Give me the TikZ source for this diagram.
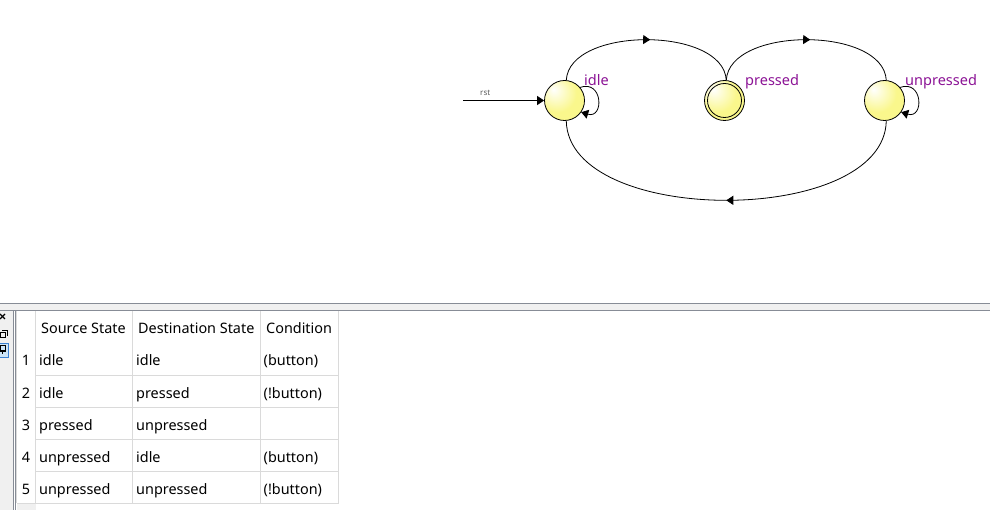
\documentclass[tikz,border=0pt]{standalone}
\usepackage{fontspec}
\setmainfont{Noto Sans}
\usetikzlibrary{arrows.meta,decorations.markings}
\definecolor{yel}{RGB}{250,247,140}
\definecolor{lblpurple}{RGB}{140,20,150}
\definecolor{gridc}{RGB}{218,218,218}
\definecolor{divc}{RGB}{135,140,150}
\definecolor{bandc}{RGB}{240,240,240}
\definecolor{rstc}{RGB}{90,90,90}
\definecolor{selc}{RGB}{204,228,247}
\definecolor{selb}{RGB}{60,130,210}
\pgfdeclareradialshading{stateball}{\pgfpoint{-14bp}{14bp}}{color(0bp)=(white); color(24bp)=(yel); color(70bp)=(yel)}
\begin{document}
\begin{tikzpicture}[x=1pt,y=-1pt,
  state/.style={circle,draw=black,line width=0.8pt,minimum size=40pt,inner sep=0pt,shading=stateball},
  innerring/.style={circle,draw=black,line width=0.8pt,minimum size=34pt,inner sep=0pt},
  lbl/.style={text=lblpurple,font=\fontsize{14.5}{16}\selectfont,inner sep=0pt,anchor=base west},
  cell/.style={font=\fontsize{14.4}{16}\selectfont,inner sep=0pt,anchor=base west},
  rownum/.style={font=\fontsize{14.4}{16}\selectfont,inner sep=0pt,anchor=base},
  edge/.style={line width=0.8pt},
  tip/.style={edge,-{Triangle[length=7pt,width=9pt]}},
  midarrow/.style={edge,postaction={decorate},decoration={markings,mark=at position #1 with {\arrow{Triangle[length=7pt,width=9pt]}}}},
  grid/.style={draw=gridc,line width=1pt}
]
\useasboundingbox (0,0) rectangle (990,510);
\fill[white] (0,0) rectangle (990,510);

% ---------- state diagram ----------
\node[state] (idle) at (564.5,100.5) {};
\node[state] (pressed) at (724.5,100.5) {};
\node[innerring] (pressedin) at (pressed.center) {};
\node[state] (unpressed) at (884.5,100.5) {};

\node[lbl] (idlelbl) at (584,86) {idle};
\node[lbl] (pressedlbl) at (745,86) {pressed};
\node[lbl] (unpressedlbl) at (905,86) {unpressed};

\coordinate (rstin) at (463,100.5);
\draw[tip] (rstin) -- (idle.west);
\node[font=\fontsize{8}{9}\selectfont,text=rstc,inner sep=0pt,anchor=base west] (rstlbl) at (480,96) {rst};

\draw[tip] (idle.40) .. controls +(23,-8) and +(23,7) .. (idle.-35);
\draw[tip] (unpressed.40) .. controls +(23,-8) and +(23,7) .. (unpressed.-35);

\draw[midarrow=0.52] (idle.85) .. controls +(3,-54) and +(-3,-54) .. (pressed.85);
\draw[midarrow=0.52] (pressed.85) .. controls +(3,-54) and +(-3,-54) .. (unpressed.85);
\draw[midarrow=0.5] (unpressed.-85) .. controls +(-2,106) and +(2,106) .. (idle.-85);

% ---------- lower panel ----------
\fill[bandc] (0,303.5) rectangle (990,310.5);
\draw[divc,line width=1pt] (0,303.5) -- (990,303.5);
\draw[divc,line width=1pt] (0,310.8) -- (990,310.8);
\fill[bandc] (0,311.3) rectangle (13,510);
\draw[divc,line width=1pt] (13.5,311) -- (13.5,510);
\draw[divc,line width=1pt] (15.5,311) -- (15.5,510);
\fill[bandc] (16.5,503) rectangle (35.5,510);

% side icons
\draw[line width=1.3pt] (0,314) -- (5,319);
\draw[line width=1.3pt] (0,319) -- (5,314);
\draw[line width=1pt] (0,333) rectangle (5,338);
\draw[line width=1pt] (2,330.5) -- (7.5,330.5) -- (7.5,336);
\fill[selc] (-1,343) rectangle (8,357);
\draw[selb,line width=0.8pt] (-1,343) rectangle (8,357);
\draw[line width=1pt] (0,346) rectangle (5,351);
\draw[line width=1pt] (2.5,351) -- (2.5,354);

% table grid
\draw[grid] (16.5,311) -- (16.5,503);
\draw[grid] (35.5,311) -- (35.5,503);
\draw[grid] (132.5,311) -- (132.5,503);
\draw[grid] (260.5,311) -- (260.5,503);
\draw[grid] (338.5,311) -- (338.5,503);
\draw[grid] (35.5,375) -- (338.5,375);
\draw[grid] (35.5,407) -- (338.5,407);
\draw[grid] (35.5,439) -- (338.5,439);
\draw[grid] (35.5,471) -- (338.5,471);
\draw[grid] (16.5,503) -- (338.5,503);

% header
\node[cell] (h1) at (41,334) {Source State};
\node[cell] (h2) at (138,334) {Destination State};
\node[cell] (h3) at (266,334) {Condition};

% rows
\node[rownum] (n1) at (26,366) {1};
\node[cell] (s1) at (39,366) {idle};
\node[cell] (d1) at (136,366) {idle};
\node[cell] (c1) at (263.5,366) {(button)};

\node[rownum] (n2) at (26,398) {2};
\node[cell] (s2) at (39,398) {idle};
\node[cell] (d2) at (136,398) {pressed};
\node[cell] (c2) at (263.5,398) {(!button)};

\node[rownum] (n3) at (26,430) {3};
\node[cell] (s3) at (39,430) {pressed};
\node[cell] (d3) at (136,430) {unpressed};

\node[rownum] (n4) at (26,462) {4};
\node[cell] (s4) at (39,462) {unpressed};
\node[cell] (d4) at (136,462) {idle};
\node[cell] (c4) at (263.5,462) {(button)};

\node[rownum] (n5) at (26,494) {5};
\node[cell] (s5) at (39,494) {unpressed};
\node[cell] (d5) at (136,494) {unpressed};
\node[cell] (c5) at (263.5,494) {(!button)};
\end{tikzpicture}
\end{document}
